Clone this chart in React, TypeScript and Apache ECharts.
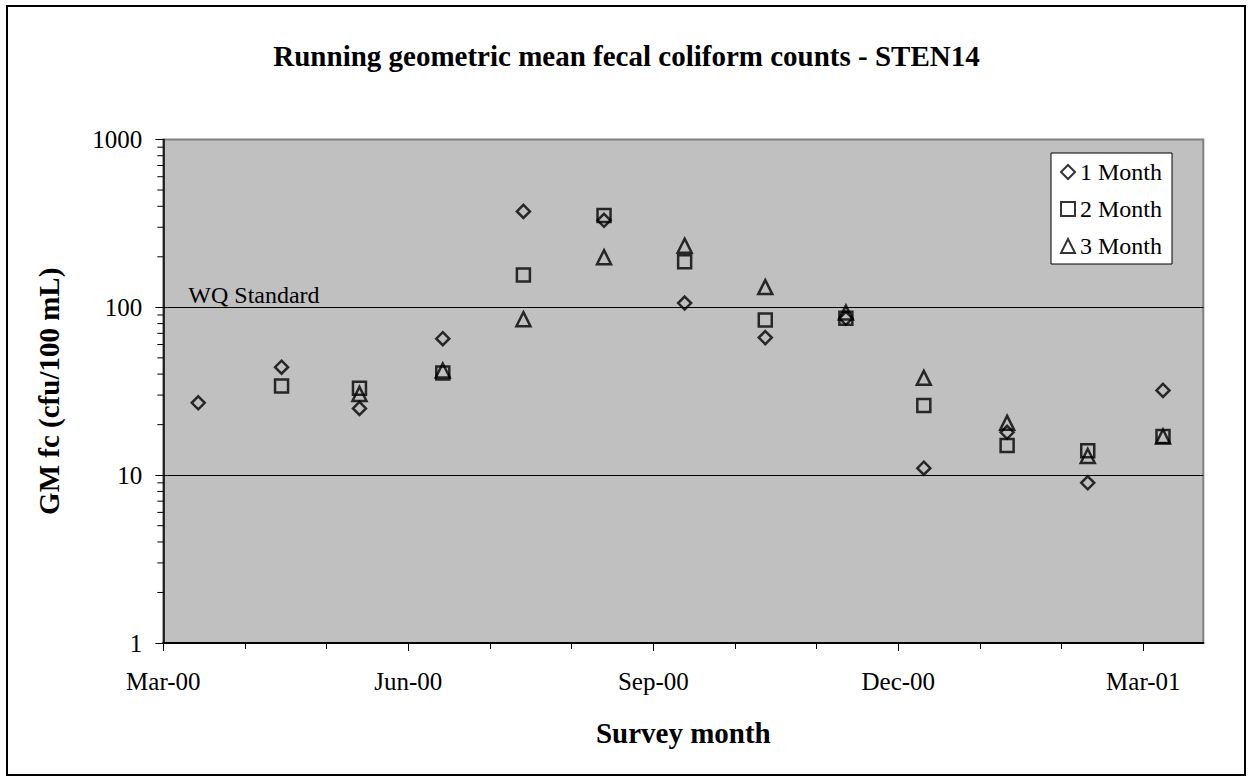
import React, { useEffect, useRef } from 'react';
import * as echarts from 'echarts';

const TITLE = 'Running geometric mean fecal coliform counts - STEN14';
const X_NAME = 'Survey month';
const Y_NAME = 'GM fc (cfu/100 mL)';
const SERIES_NAMES = ['1 Month', '2 Month', '3 Month'];

// survey dates (x values)
const surveyDates = [
  '2000-03-14', '2000-04-14', '2000-05-13', '2000-06-13', '2000-07-13',
  '2000-08-12', '2000-09-11', '2000-10-11', '2000-11-10', '2000-12-09',
  '2001-01-09', '2001-02-08', '2001-03-08',
];

// running geometric means (cfu/100 mL)
const oneMonth = [27, 44, 25, 65, 373, 330, 106, 66, 86, 11, 18, 9, 32];
const twoMonth = [null, 34, 33, 40.6, 156, 352, 187, 84, 86, 26, 15, 14, 17];
const threeMonth = [null, null, 30.5, 42, 85, 199, 233, 132, 93, 38, 20.5, 13, 17];

const WQ_STANDARD = 100;

// axis definitions
const axisStartDate = '2000-03-01';
const lastTickDate = '2001-03-01';
const axisEndDate = '2001-03-23';
const xTickLabels = ['Mar-00', 'Jun-00', 'Sep-00', 'Dec-00', 'Mar-01'];
const yMin = 1;
const yMax = 1000;
const yDecades = [1, 10, 100];
const minorMultipliers = [2, 3, 4, 5, 6, 7, 8, 9];

const FONT = "'Liberation Serif', 'Times New Roman', serif";
const DAY = 86400000;
const dayOf = (iso: string) => (Date.parse(iso) - Date.parse(axisStartDate)) / DAY;

export default function App() {
  const ref = useRef<HTMLDivElement>(null);

  useEffect(() => {
    if (!ref.current) return;
    const chart = echarts.init(ref.current, undefined, { renderer: 'svg' });

    const xEnd = dayOf(axisEndDate);
    const xLastTick = dayOf(lastTickDate);
    const tickStep = xLastTick / (xTickLabels.length - 1);

    const toPoints = (vals: (number | null)[]) =>
      surveyDates
        .map((d, i) => [dayOf(d), vals[i]])
        .filter((p) => p[1] != null);

    const minorTickValues: number[] = [];
    yDecades.forEach((d) => minorMultipliers.forEach((m) => minorTickValues.push(m * d)));

    const markerStyle = { color: 'rgba(0,0,0,0)', borderColor: '#000', borderWidth: 2.5 };

    const option: any = {
      animation: false,
      backgroundColor: '#ffffff',
      title: {
        text: TITLE,
        left: 'center',
        top: 36,
        textStyle: { fontFamily: FONT, fontSize: 29, fontWeight: 'bold', color: '#000' },
      },
      legend: {
        orient: 'vertical',
        left: 1051,
        top: 153,
        data: SERIES_NAMES,
        backgroundColor: '#ffffff',
        borderColor: '#000',
        borderWidth: 1,
        padding: [7, 10, 6, 9],
        itemGap: 13,
        itemWidth: 14,
        itemHeight: 14,
        textStyle: { fontFamily: FONT, fontSize: 24, color: '#000' },
      },
      grid: [
        {
          left: 163.3, right: 49.7, top: 139.5, bottom: 141,
          show: true, backgroundColor: '#c0c0c0', borderColor: '#808080', borderWidth: 2,
          outerBoundsMode: 'none',
        },
        {
          left: 163.3, right: 1253 - 1143.3, top: 139.5, bottom: 141,
          show: false, outerBoundsMode: 'none',
        },
      ],
      xAxis: [
        {
          type: 'value', gridIndex: 0, min: 0, max: xEnd,
          axisLine: { show: true, lineStyle: { color: '#000', width: 2 } },
          axisTick: { show: false }, axisLabel: { show: false }, splitLine: { show: false },
          name: X_NAME, nameLocation: 'middle', nameGap: 75,
          nameTextStyle: { fontFamily: FONT, fontSize: 29, fontWeight: 'bold', color: '#000' },
        },
        {
          type: 'value', gridIndex: 1, min: 0, max: xLastTick, interval: tickStep,
          axisLine: { show: false },
          axisTick: { show: true, length: 8, lineStyle: { color: '#000', width: 1 } },
          minorTick: { show: true, splitNumber: 3, length: 6, lineStyle: { color: '#000', width: 1 } },
          splitLine: { show: false },
          axisLabel: {
            margin: 26, fontFamily: FONT, fontSize: 25, color: '#000',
            formatter: (v: number) => xTickLabels[Math.round(v / tickStep)] ?? '',
          },
        },
      ],
      yAxis: [
        {
          type: 'log', logBase: 10, gridIndex: 0, min: yMin, max: yMax,
          axisLine: { show: true, lineStyle: { color: '#000', width: 1.5 } },
          axisTick: { show: true, length: 8, lineStyle: { color: '#000', width: 1 } },
          axisLabel: {
            margin: 21, fontFamily: FONT, fontSize: 25, color: '#000',
            formatter: (v: number) => String(Math.round(v)),
          },
          splitLine: { show: true, lineStyle: { color: ['#000', '#000', '#000', '#808080'], width: 1 } },
          name: Y_NAME, nameLocation: 'middle', nameGap: 100,
          nameTextStyle: { fontFamily: FONT, fontSize: 29, fontWeight: 'bold', color: '#000' },
        },
        { type: 'value', gridIndex: 1, show: false, min: 0, max: 1 },
      ],
      graphic: [
        {
          type: 'rect', shape: { x: 7, y: 6, width: 1238, height: 769 },
          style: { fill: 'none', stroke: '#000', lineWidth: 2 }, silent: true, z: 100,
        },
      ],
      series: [
        {
          name: SERIES_NAMES[0], type: 'scatter', symbol: 'diamond', symbolSize: 13,
          data: toPoints(oneMonth), itemStyle: markerStyle, z: 5,
          markLine: {
            silent: true, symbol: 'none',
            lineStyle: { color: '#000', width: 1, type: 'solid' },
            label: {
              show: true, position: 'insideStartTop', formatter: 'WQ Standard',
              fontFamily: FONT, fontSize: 24, color: '#000', distance: [25, 0],
            },
            data: [{ yAxis: WQ_STANDARD }],
          },
        },
        {
          name: SERIES_NAMES[1], type: 'scatter', symbol: 'rect', symbolSize: 13,
          data: toPoints(twoMonth), itemStyle: markerStyle, z: 4,
        },
        {
          name: SERIES_NAMES[2], type: 'scatter', symbol: 'triangle', symbolSize: 14,
          data: toPoints(threeMonth), itemStyle: markerStyle, z: 3,
        },
        {
          type: 'custom', xAxisIndex: 0, yAxisIndex: 0, silent: true, clip: false,
          data: minorTickValues.map((v) => [0, v]),
          renderItem: (_p: any, api: any) => {
            const pt = api.coord([api.value(0), api.value(1)]);
            return {
              type: 'line',
              shape: { x1: pt[0] - 6, y1: pt[1], x2: pt[0], y2: pt[1] },
              style: { stroke: '#000', lineWidth: 1 },
            };
          },
        },
      ],
    };

    chart.setOption(option);
    return () => chart.dispose();
  }, []);

  return (
    <div
      ref={ref}
      style={{ position: 'absolute', left: 0, top: 0, width: 1253, height: 784 }}
    />
  );
}
